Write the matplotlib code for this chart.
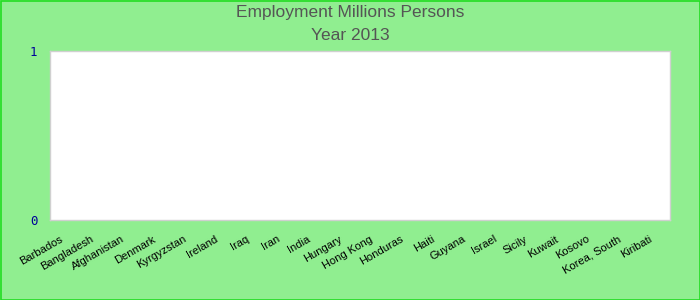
import matplotlib
matplotlib.use("Agg")
import matplotlib.pyplot as plt
from matplotlib.patches import Rectangle
from matplotlib.transforms import ScaledTranslation
from matplotlib import font_manager

countries = ["Barbados", "Bangladesh", "Afghanistan", "Denmark", "Kyrgyzstan",
             "Ireland", "Iraq", "Iran", "India", "Hungary", "Hong Kong",
             "Honduras", "Haiti", "Guyana", "Israel", "Sicily", "Kuwait",
             "Kosovo", "Korea, South", "Kiribati"]
employment = [0, 0, 0, 0, 0, 0, 0, 0, 0, 0, 0, 0, 0, 0, 0, 0, 0, 0, 0, 0]
y_ticks = [0, 1]

plt.rcParams['font.family'] = ['Liberation Sans', 'DejaVu Sans']

names = {f.name for f in font_manager.fontManager.ttflist}
title_family = "Liberation Sans Narrow" if "Liberation Sans Narrow" in names else "Liberation Sans"

fig = plt.figure(figsize=(7, 3), dpi=100, facecolor="#90EE90")
ax = fig.add_axes([50/700, 1 - 220/300, 620/700, 169/300])
ax.set_facecolor("white")

x = list(range(len(countries)))
ax.bar(x, employment, width=0.6, color="#4F81BC")
ax.set_xlim(-0.5, len(countries) - 0.5)
ax.set_ylim(0, 1)

ax.set_yticks(y_ticks)
ax.set_yticklabels([str(v) for v in y_ticks], color="#000099",
                   fontfamily="DejaVu Sans Mono", fontsize=9)
ax.tick_params(axis="y", length=0, pad=9)

ax.set_xticks(x)
ax.set_xticklabels(countries, rotation=30, ha="right", va="top",
                   rotation_mode="anchor", fontsize=8, color="black")
ax.tick_params(axis="x", length=0, pad=10)
shift = ScaledTranslation(-6/100, 0, fig.dpi_scale_trans)
for lbl in ax.get_xticklabels():
    lbl.set_transform(lbl.get_transform() + shift)

for s in ax.spines.values():
    s.set_color("#d0d0d0")
    s.set_linewidth(1)

fig.text(0.5, 1 - 13/300, "Employment Millions Persons", ha="center",
         va="center", fontsize=12.5, color="#555555", fontfamily=title_family)
fig.text(0.5, 1 - 36/300, "Year 2013", ha="center", va="center",
         fontsize=12.5, color="#555555", fontfamily=title_family)

fig.patches.append(Rectangle((0.5/700, 0.5/300), 699/700, 299/300,
                             transform=fig.transFigure, fill=False,
                             edgecolor="#22dd22", linewidth=1.2))

fig.savefig("out.png", dpi=100, facecolor=fig.get_facecolor())
